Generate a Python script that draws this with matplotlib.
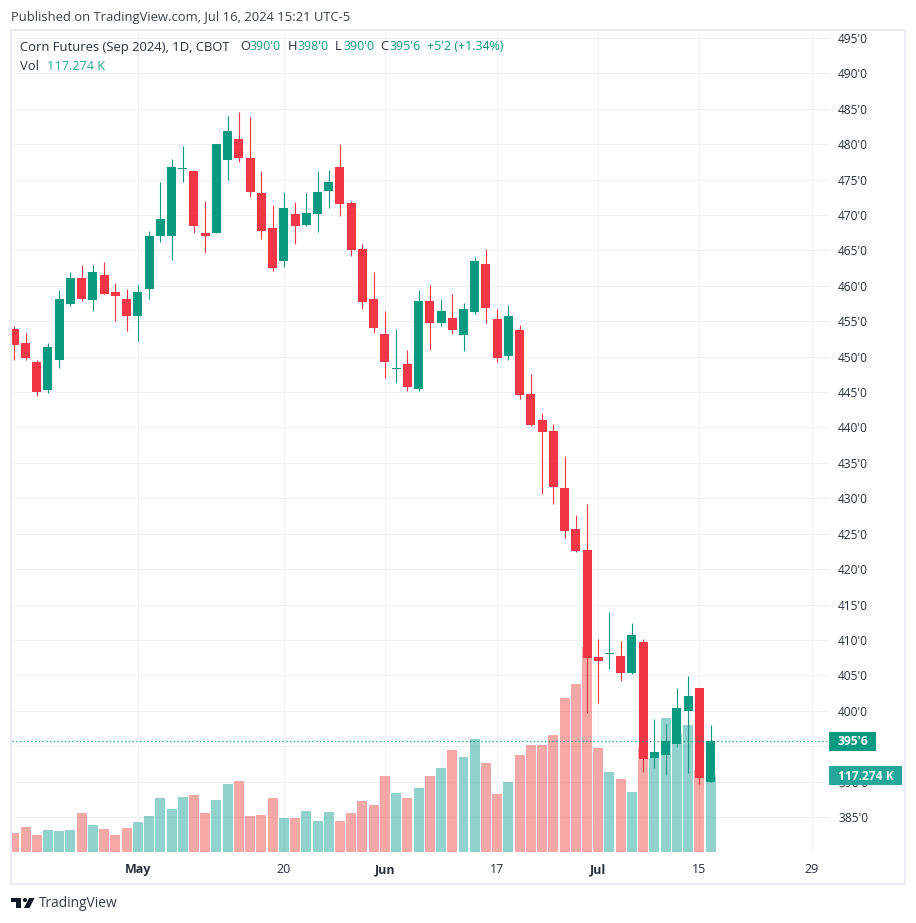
#!/usr/bin/env python3
"""Corn futures daily candles with volume, TradingView snapshot look."""

from __future__ import annotations

import matplotlib

matplotlib.use("Agg")
import matplotlib.pyplot as plt
from matplotlib.patches import Circle, Polygon, Rectangle
from matplotlib.transforms import IdentityTransform

opens = [
    453.85, 451.9, 449.3, 445.25, 449.5, 457.5, 461.05, 457.95, 461.6, 459.1,
    458.1, 455.7, 459.5, 467.0, 467.0, 476.5, 476.15, 467.4, 467.4, 477.7,
    480.8, 478.1, 473.05, 468.1, 463.45, 470.1, 468.65, 470.2, 473.45, 476.85,
    471.65, 465.15, 458.1, 453.15, 448.25, 448.9, 445.5, 457.8, 454.7, 455.4,
    453.05, 456.3, 463.05, 455.35, 450.1, 453.8, 444.75, 441.1, 439.55, 431.5,
    425.6, 422.65, 407.55, 408.0, 407.8, 405.4, 409.65, 393.4, 393.7, 395.25,
    399.9, 403.15, 390.0,
]
highs = [
    454.4, 453.3, 449.6, 451.9, 459.35, 461.9, 462.9, 462.9, 463.3, 460.35,
    459.6, 460.05, 467.8, 474.6, 477.85, 479.8, 476.3, 472.05, 480.1, 484.05,
    484.6, 483.8, 476.15, 471.35, 473.3, 471.8, 473.05, 476.15, 476.3, 480.1,
    472.05, 465.85, 461.9, 456.5, 453.85, 450.9, 459.35, 460.05, 458.1, 458.8,
    457.6, 464.05, 465.2, 456.75, 457.3, 454.5, 447.6, 442.1, 440.55, 436.0,
    427.6, 429.15, 410.1, 413.9, 409.8, 412.35, 410.1, 398.8, 398.1, 403.15,
    404.85, 403.15, 398.0,
]
lows = [
    449.6, 449.6, 444.5, 444.8, 448.35, 457.1, 457.8, 456.5, 458.8, 455.1,
    453.6, 452.15, 458.1, 466.15, 463.6, 474.6, 467.4, 464.6, 467.4, 474.9,
    477.55, 472.6, 466.55, 462.05, 462.6, 465.85, 468.4, 467.55, 471.05, 469.8,
    464.15, 456.8, 453.3, 447.05, 446.35, 445.1, 445.1, 450.9, 454.4, 453.15,
    450.8, 456.05, 454.75, 449.3, 449.55, 444.05, 440.25, 430.55, 429.25, 424.35,
    422.35, 399.65, 401.05, 405.85, 404.15, 405.15, 391.3, 391.85, 390.9, 394.85,
    391.15, 389.6, 390.0,
]
closes = [
    451.7, 449.75, 444.95, 451.3, 458.1, 461.05, 458.2, 461.9, 458.9, 458.5,
    455.7, 459.1, 467.1, 469.4, 476.85, 476.6, 468.4, 467.0, 480.1, 481.8,
    478.0, 473.2, 467.7, 462.45, 471.05, 468.4, 470.35, 473.3, 474.6, 471.5,
    465.0, 457.65, 454.0, 449.2, 448.35, 445.65, 457.8, 454.7, 456.4, 453.7,
    456.75, 463.5, 456.9, 449.85, 455.75, 444.6, 440.4, 439.4, 431.65, 425.45,
    422.5, 407.4, 407.0, 408.1, 405.4, 410.65, 393.15, 394.15, 395.8, 400.35,
    402.05, 390.45, 395.75,
]
volumes_k = [
    28.9, 38.1, 25.9, 33.5, 32.0, 33.5, 59.4, 41.1, 35.0, 25.9,
    36.6, 45.7, 54.8, 82.2, 65.5, 83.8, 86.8, 59.4, 79.2, 103.6,
    108.1, 54.8, 56.4, 82.2, 51.8, 51.8, 62.4, 47.2, 60.9, 47.2,
    59.4, 77.7, 71.6, 115.8, 89.9, 82.2, 97.5, 115.8, 127.9, 155.4,
    144.7, 172.1, 135.6, 88.3, 106.6, 147.7, 163.0, 163.0, 178.2, 234.6,
    255.9, 312.2, 158.4, 121.8, 111.2, 91.4, 159.9, 143.2, 204.1, 179.7,
    193.4, 124.9, 117.274,
]

price_ticks = [385, 390, 395, 400, 405, 410, 415, 420, 425, 430, 435, 440,
               445, 450, 455, 460, 465, 470, 475, 480, 485, 490, 495]
time_tick_pos = [11, 24, 33, 43, 52, 61, 71]
time_tick_labels = ["May", "20", "Jun", "17", "Jul", "15", "29"]
bold_labels = {"May", "Jun", "Jul"}

UP = "#089981"
DOWN = "#f23645"
VOL_UP = "#26a69a"
VOL_DOWN = "#ef5350"
GRID = "#f0f1f6"
FRAME = "#ecedf2"
TEXT = "#2a2e39"

W, H = 916, 923
PANE_L, PANE_R, PANE_T, PANE_B = 12, 829, 31, 852

plt.rcParams["font.family"] = ["Open Sans", "DejaVu Sans"]


def px(size: float) -> float:
    # font sizes below are read in pixels, figure is 100 dpi
    return size * 0.72


def fx(x: float) -> float:
    return x / W


def fy(y: float) -> float:
    return 1 - y / H


def fig_text(fig, x, y, s, color=TEXT, size=12.0, **kw):
    fig.text(fx(x), fy(y), s, color=color, fontsize=px(size), va="center", **kw)


def main() -> None:
    fig = plt.figure(figsize=(W / 100, H / 100), dpi=100)
    pos = [fx(PANE_L), fy(PANE_B), (PANE_R - PANE_L) / W, (PANE_B - PANE_T) / H]

    # 11.23 px per bar, first bar centred at x=14.3
    xlim = ((PANE_L - 14.3) / 11.23, (PANE_R - 14.3) / 11.23)
    # 7.082 px per cent, 385 sits at y=817
    ylim = (385 + (817 - PANE_B) / 7.082, 385 + (817 - PANE_T) / 7.082)
    xs = list(range(len(closes)))

    bg = fig.add_axes(pos, zorder=0)
    bg.set_xlim(xlim)
    bg.set_ylim(ylim)
    bg.set_xticks(time_tick_pos)
    bg.set_yticks(price_ticks)
    bg.tick_params(length=0, labelbottom=False, labelleft=False)
    bg.grid(True, color=GRID, linewidth=0.8)
    for s in bg.spines.values():
        s.set_visible(False)

    vol = fig.add_axes(pos, zorder=1)
    vol.patch.set_visible(False)
    vol.set_xlim(xlim)
    vol.set_ylim(0, (PANE_B - PANE_T) / (77 / 117.274))
    vol_colors = [VOL_UP if c >= o else VOL_DOWN for o, c in zip(opens, closes)]
    vol.bar(xs, volumes_k, width=0.89, color=vol_colors, alpha=0.5, linewidth=0)
    vol.axis("off")

    ax = fig.add_axes(pos, zorder=2)
    ax.patch.set_visible(False)
    ax.set_xlim(xlim)
    ax.set_ylim(ylim)
    colors = [UP if c >= o else DOWN for o, c in zip(opens, closes)]
    ax.vlines(xs, lows, highs, colors=colors, linewidth=0.8)
    bottoms = [min(o, c) for o, c in zip(opens, closes)]
    heights = [max(abs(c - o), 0.14) for o, c in zip(opens, closes)]
    ax.bar(xs, heights, bottom=bottoms, width=0.8, color=colors, linewidth=0)
    ax.axhline(closes[-1], color=UP, linewidth=0.9, linestyle=(0, (1, 2)))

    ax.yaxis.tick_right()
    ax.set_yticks(price_ticks)
    # the 395 label sits under the last price badge, so it never shows
    ax.set_yticklabels(["" if p == 395 else f"{p}'0" for p in price_ticks])
    ax.set_xticks(time_tick_pos)
    ax.set_xticklabels(time_tick_labels)
    ax.tick_params(axis="y", length=0, pad=6.5, labelsize=px(12), labelcolor=TEXT)
    ax.tick_params(axis="x", length=0, pad=8, labelsize=px(12.5), labelcolor=TEXT)
    for lab in ax.get_xticklabels():
        if lab.get_text() in bold_labels:
            lab.set_fontweight("bold")
    for s in ax.spines.values():
        s.set_visible(False)

    # outer frame
    fig.add_artist(Rectangle((fx(11), fy(884)), 894 / W, 854 / H, fill=False,
                             edgecolor=FRAME, linewidth=1.5,
                             transform=fig.transFigure, zorder=3))

    # header
    fig_text(fig, 11, 17, "Published on TradingView.com, Jul 16, 2024 15:21 UTC-5",
             color="#3c4048", size=13)
    fig_text(fig, 20, 47, "Corn Futures (Sep 2024), 1D, CBOT", size=13)
    for x, s in [(240, "O"), (288, "H"), (335, "L"), (380, "C")]:
        fig_text(fig, x, 47, s, size=13)
    for x, s in [(249, "390'0"), (297, "398'0"), (343, "390'0"), (389, "395'6"),
                 (427, "+5'2 (+1.34%)")]:
        fig_text(fig, x, 47, s, color=UP, size=12.4)
    fig_text(fig, 20, 66, "Vol", size=13)
    fig_text(fig, 47, 66, "117.274 K", color=VOL_UP, size=12.6)

    # last value badges on the price scale
    fig.add_artist(Rectangle((fx(829), fy(750.5)), 47 / W, 18.5 / H, facecolor=UP,
                             edgecolor="none", transform=fig.transFigure, zorder=5))
    fig_text(fig, 838, 741.5, "395'6", color="white", zorder=6, fontweight="bold")
    fig.add_artist(Rectangle((fx(829), fy(785)), 73 / W, 19 / H, facecolor=VOL_UP,
                             edgecolor="none", transform=fig.transFigure, zorder=5))
    fig_text(fig, 838, 776, "117.274 K", color="white", zorder=6, fontweight="bold")

    # logo
    t_shape = [(11, 898), (21, 898), (21, 908), (16, 908), (16, 902), (11, 902)]
    slash = [(29, 898), (34.5, 898), (29.5, 908), (24, 908)]
    for pts in (t_shape, slash):
        fig.add_artist(Polygon([(fx(x), fy(y)) for x, y in pts], facecolor="#131722",
                               edgecolor="none", transform=fig.transFigure))
    fig.add_artist(Circle((25, H - 900), 2.1, facecolor="#131722", edgecolor="none",
                          transform=IdentityTransform()))
    fig_text(fig, 39, 903.5, "TradingView", size=13.8, color="#363a45")

    fig.savefig("out.png", dpi=100)
    plt.close(fig)


if __name__ == "__main__":
    main()
